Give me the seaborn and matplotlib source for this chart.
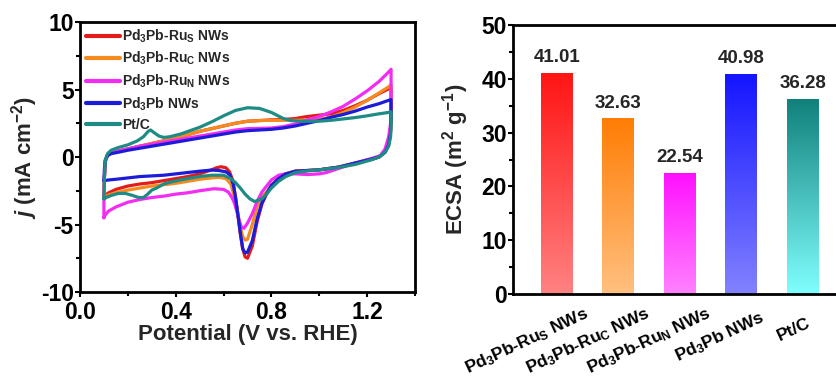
import numpy as np
import pandas as pd
import matplotlib
matplotlib.use("Agg")
import matplotlib.pyplot as plt
import matplotlib.transforms as mtransforms
from matplotlib.ticker import MultipleLocator, FormatStrFormatter
import seaborn as sns

# ---------------- data ----------------
samples = ["Pd3Pb-RuS NWs", "Pd3Pb-RuC NWs", "Pd3Pb-RuN NWs", "Pd3Pb NWs", "Pt/C"]
sample_labels = [r"Pd$_3$Pb-Ru$_{S}$ NWs", r"Pd$_3$Pb-Ru$_{C}$ NWs",
                 r"Pd$_3$Pb-Ru$_{N}$ NWs", r"Pd$_3$Pb NWs", "Pt/C"]

# CV loops: anodic sweep 0.1 -> 1.3 V, then cathodic sweep back to 0.1 V
rus_V = [0.100, 0.102, 0.106, 0.115, 0.13, 0.16, 0.20, 0.25, 0.30, 0.35, 0.40, 0.45, 0.50, 0.55,
         0.60, 0.65, 0.70, 0.75, 0.80, 0.85, 0.90, 0.95, 1.00, 1.05, 1.10, 1.15, 1.20, 1.25, 1.29, 1.30,
         1.30, 1.298, 1.29, 1.275, 1.25, 1.22, 1.15, 1.08, 1.00, 0.95, 0.90, 0.86, 0.83, 0.80, 0.78,
         0.76, 0.74, 0.72, 0.70, 0.69, 0.68, 0.67, 0.66, 0.65, 0.64, 0.625, 0.61, 0.59, 0.57, 0.55,
         0.50, 0.45, 0.40, 0.35, 0.30, 0.25, 0.20, 0.15, 0.12, 0.10]
rus_j = [-2.9, -1.5, -0.3, 0.15, 0.35, 0.45, 0.6, 0.8, 1.0, 1.2, 1.4, 1.65, 1.9, 2.1,
         2.3, 2.5, 2.65, 2.7, 2.75, 2.78, 2.85, 3.0, 3.1, 3.2, 3.45, 3.8, 4.2, 4.7, 5.05, 5.15,
         3.5, 2.0, 1.0, 0.4, 0.0, -0.15, -0.45, -0.75, -0.95, -1.0, -1.05, -1.25, -1.6, -2.1, -2.7,
         -3.5, -4.8, -6.6, -7.5, -7.4, -6.8, -5.7, -4.3, -3.0, -1.8, -1.1, -0.8, -0.72, -0.8, -0.95,
         -1.25, -1.45, -1.6, -1.75, -1.9, -2.0, -2.15, -2.4, -2.65, -2.9]

ruc_V = [0.100, 0.102, 0.106, 0.115, 0.13, 0.16, 0.20, 0.25, 0.30, 0.35, 0.40, 0.45, 0.50, 0.55,
         0.60, 0.65, 0.70, 0.75, 0.80, 0.85, 0.90, 0.95, 1.00, 1.05, 1.10, 1.15, 1.20, 1.25, 1.29, 1.30,
         1.30, 1.298, 1.29, 1.275, 1.25, 1.22, 1.15, 1.08, 1.00, 0.95, 0.90, 0.86, 0.83, 0.80, 0.78,
         0.76, 0.74, 0.72, 0.70, 0.69, 0.68, 0.67, 0.66, 0.65, 0.64, 0.63, 0.61, 0.58, 0.55,
         0.50, 0.45, 0.40, 0.35, 0.30, 0.25, 0.20, 0.15, 0.12, 0.10]
ruc_j = [-3.0, -1.5, -0.3, 0.15, 0.35, 0.45, 0.6, 0.8, 1.0, 1.2, 1.4, 1.65, 1.9, 2.1,
         2.3, 2.5, 2.65, 2.7, 2.72, 2.72, 2.72, 2.75, 2.8, 2.95, 3.3, 3.7, 4.2, 4.75, 5.2, 5.35,
         3.6, 2.0, 1.0, 0.4, 0.0, -0.15, -0.45, -0.75, -0.95, -1.0, -1.05, -1.25, -1.6, -2.1, -2.6,
         -2.95, -3.7, -5.0, -6.1, -6.15, -5.9, -5.2, -4.2, -3.3, -2.6, -2.0, -1.6, -1.5, -1.55,
         -1.65, -1.8, -1.95, -2.05, -2.15, -2.3, -2.45, -2.65, -2.8, -3.0]

run_V = [0.100, 0.100, 0.102, 0.106, 0.115, 0.13, 0.16, 0.20, 0.25, 0.30, 0.35, 0.40, 0.45, 0.50,
         0.55, 0.60, 0.65, 0.70, 0.75, 0.80, 0.85, 0.90, 0.95, 1.00, 1.05, 1.10, 1.15, 1.20, 1.25,
         1.29, 1.30,
         1.30, 1.298, 1.29, 1.275, 1.255, 1.22, 1.15, 1.08, 1.03, 1.00, 0.95, 0.90, 0.86, 0.83, 0.80,
         0.78, 0.76, 0.74, 0.72, 0.70, 0.685, 0.675, 0.665, 0.655, 0.645, 0.635, 0.62, 0.60, 0.56,
         0.50, 0.45, 0.40, 0.35, 0.30, 0.25, 0.20, 0.15, 0.12, 0.105, 0.10]
run_j = [-4.5, -3.0, -1.5, -0.3, 0.1, 0.3, 0.45, 0.6, 0.8, 0.95, 1.1, 1.25, 1.4, 1.55,
         1.7, 1.85, 2.0, 2.1, 2.12, 2.15, 2.25, 2.45, 2.75, 3.0, 3.35, 3.75, 4.3, 4.9, 5.6,
         6.3, 6.5,
         4.0, 2.5, 1.5, 0.6, 0.1, -0.1, -0.45, -0.85, -1.15, -1.25, -1.3, -1.25, -1.25, -1.35, -1.7,
         -2.15, -2.6, -3.3, -4.2, -4.9, -5.28, -5.2, -4.7, -4.0, -3.4, -3.0, -2.6, -2.4, -2.35,
         -2.5, -2.65, -2.75, -2.9, -3.0, -3.15, -3.35, -3.7, -4.0, -4.3, -4.5]

pb_V = [0.100, 0.102, 0.106, 0.115, 0.13, 0.16, 0.20, 0.25, 0.30, 0.35, 0.40, 0.45, 0.50, 0.55,
        0.60, 0.65, 0.70, 0.75, 0.80, 0.85, 0.90, 0.95, 1.00, 1.05, 1.10, 1.15, 1.20, 1.25, 1.29, 1.30,
        1.30, 1.298, 1.29, 1.275, 1.25, 1.22, 1.15, 1.08, 1.00, 0.95, 0.90, 0.86, 0.83, 0.80, 0.78,
        0.76, 0.74, 0.72, 0.70, 0.69, 0.68, 0.67, 0.66, 0.65, 0.64, 0.625, 0.61, 0.58, 0.55,
        0.50, 0.45, 0.40, 0.35, 0.30, 0.25, 0.20, 0.15, 0.12, 0.10]
pb_j = [-1.75, -0.9, -0.2, 0.1, 0.25, 0.35, 0.5, 0.65, 0.8, 0.95, 1.1, 1.25, 1.4, 1.55,
        1.7, 1.85, 1.95, 2.0, 2.05, 2.15, 2.3, 2.5, 2.7, 2.95, 3.15, 3.4, 3.7, 3.95, 4.2, 4.25,
        3.0, 1.8, 0.9, 0.35, 0.0, -0.15, -0.45, -0.75, -0.95, -1.0, -1.05, -1.25, -1.6, -2.1, -2.7,
        -3.4, -4.6, -6.2, -7.05, -7.1, -6.8, -5.6, -4.3, -3.0, -2.0, -1.3, -1.1, -1.0, -0.97,
        -1.05, -1.15, -1.25, -1.35, -1.4, -1.45, -1.55, -1.65, -1.7, -1.75]

ptc_V = [0.100, 0.102, 0.106, 0.115, 0.13, 0.16, 0.20, 0.24, 0.265, 0.285, 0.295, 0.31, 0.33, 0.35,
         0.375, 0.42, 0.46, 0.50, 0.55, 0.60, 0.65, 0.70, 0.75, 0.80, 0.85, 0.88, 0.92, 1.00, 1.05,
         1.10, 1.15, 1.20, 1.25, 1.29, 1.30,
         1.30, 1.298, 1.29, 1.275, 1.25, 1.22, 1.15, 1.08, 1.00, 0.95, 0.90, 0.86, 0.83, 0.80, 0.78,
         0.76, 0.73, 0.71, 0.69, 0.67, 0.65, 0.63, 0.60, 0.55, 0.50, 0.45, 0.42, 0.38, 0.35, 0.32,
         0.30, 0.28, 0.265, 0.245, 0.22, 0.19, 0.16, 0.13, 0.11, 0.10]
ptc_j = [-3.1, -1.5, -0.2, 0.25, 0.5, 0.7, 0.9, 1.2, 1.5, 1.9, 2.0, 1.8, 1.55, 1.45,
         1.5, 1.7, 1.95, 2.2, 2.6, 3.05, 3.45, 3.65, 3.6, 3.3, 2.85, 2.7, 2.65, 2.65, 2.72,
         2.82, 2.92, 3.05, 3.2, 3.3, 3.35,
         2.5, 1.5, 0.8, 0.35, 0.0, -0.2, -0.55, -0.78, -0.95, -1.03, -1.15, -1.45, -1.8, -2.3, -2.75,
         -3.1, -3.3, -3.1, -2.75, -2.3, -1.9, -1.6, -1.35, -1.35, -1.45, -1.6, -1.7, -1.85, -2.0, -2.3,
         -2.45, -2.8, -3.0, -3.0, -2.85, -2.7, -2.7, -2.85, -3.0, -3.1]

line_colors = ["#E41B1B", "#F58A1F", "#F22CF2", "#1C1CD8", "#1E8C84"]

# ECSA values
ecsa = [41.01, 32.63, 22.54, 40.98, 36.28]
bar_top = ["#FF1414", "#FF7D05", "#FF10FF", "#1414FF", "#10807A"]
bar_bottom = ["#FF8282", "#FFC080", "#FF82FF", "#8282FF", "#80FFFF"]

cv = pd.concat([
    pd.DataFrame({"V": v, "j": j, "sample": s})
    for s, v, j in zip(samples, [rus_V, ruc_V, run_V, pb_V, ptc_V],
                       [rus_j, ruc_j, run_j, pb_j, ptc_j])
], ignore_index=True)
bars = pd.DataFrame({"sample": samples, "ecsa": ecsa})

# ---------------- style ----------------
sns.set_theme(style="ticks")
plt.rcParams.update({
    "font.family": ["Liberation Sans", "DejaVu Sans"],
    "font.weight": "bold",
    "axes.labelweight": "bold",
    "axes.unicode_minus": False,
    "mathtext.fontset": "custom",
    "mathtext.rm": "Liberation Sans:bold",
    "mathtext.bf": "Liberation Sans:bold",
    "mathtext.sf": "Liberation Sans:bold",
    "mathtext.it": "Liberation Sans:italic:bold",
    "mathtext.default": "rm",
    "axes.linewidth": 2.0,
    "xtick.major.width": 1.5, "ytick.major.width": 1.5,
    "xtick.minor.width": 1.5, "ytick.minor.width": 1.5,
    "xtick.major.size": 3.5, "ytick.major.size": 3.5,
    "xtick.minor.size": 3.0, "ytick.minor.size": 3.0,
    "xtick.color": "black", "ytick.color": "black",
    "axes.edgecolor": "black",
})

fig = plt.figure(figsize=(8.37, 3.81), dpi=100)
W, H = 837, 381
ax1 = fig.add_axes([80 / W, 1 - 292 / H, 335 / W, 270 / H])
ax2 = fig.add_axes([513 / W, 1 - 294 / H, 330 / W, 269 / H])

# ---------------- CV curves ----------------
sns.lineplot(data=cv, x="V", y="j", hue="sample", hue_order=samples,
             palette=line_colors, sort=False, estimator=None, lw=2.3,
             legend=False, ax=ax1)
for ln in ax1.lines:
    ln.set_solid_joinstyle("round")
    ln.set_solid_capstyle("round")
ax1.set_xlim(0, 1.4)
ax1.set_ylim(-10, 10)
ax1.xaxis.set_major_locator(MultipleLocator(0.4))
ax1.xaxis.set_minor_locator(MultipleLocator(0.2))
ax1.xaxis.set_major_formatter(FormatStrFormatter("%.1f"))
ax1.yaxis.set_major_locator(MultipleLocator(5))
ax1.yaxis.set_minor_locator(MultipleLocator(2.5))
ax1.tick_params(axis="y", labelsize=16.5, pad=1)
ax1.tick_params(axis="x", labelsize=16.5, pad=2.8)
ax1.set_xlabel("Potential (V vs. RHE)", fontsize=16, fontweight="bold")
ax1.set_ylabel(r"$\mathit{j}$ (mA cm$^{-2}$)", fontsize=16, fontweight="bold")
ax1.xaxis.set_label_coords(0.5, -0.118)
ax1.yaxis.set_label_coords(-0.12, 0.5)
for lab in ax1.get_xticklabels() + ax1.get_yticklabels():
    lab.set_fontweight("bold")
leg = ax1.legend(ax1.lines, sample_labels, loc="upper left", bbox_to_anchor=(0.0, 1.0),
                 frameon=False, fontsize=10, handlelength=2.5, handletextpad=0.12,
                 labelspacing=0.37, borderaxespad=0.15, borderpad=0.25)
for t in leg.get_texts():
    t.set_fontweight("bold")
for h in leg.get_lines():
    h.set_linewidth(3.0)

# ---------------- ECSA bars ----------------
sns.barplot(data=bars, x="sample", y="ecsa", hue="sample", order=samples,
            hue_order=samples, palette=bar_top, width=0.52, legend=False,
            saturation=1, ax=ax2)
for patch, top, bot in zip(ax2.patches, bar_top, bar_bottom):
    x0, w, h = patch.get_x(), patch.get_width(), patch.get_height()
    c_top = np.array(matplotlib.colors.to_rgb(top))
    c_bot = np.array(matplotlib.colors.to_rgb(bot))
    t = np.linspace(0, 1, 256)[:, None]
    grad = (c_bot * (1 - t) + c_top * t)[:, None, :]
    im = ax2.imshow(grad, extent=[x0, x0 + w, 0, h], origin="lower",
                    aspect="auto", zorder=patch.get_zorder(), interpolation="bilinear")
    im.set_clip_path(patch)
    patch.set_facecolor("none")
    patch.set_edgecolor("none")
ax2.set_xlim(-0.715, -0.715 + 330 / 61.5)
ax2.set_ylim(0, 50)
for cont in ax2.containers:
    ax2.bar_label(cont, fmt="%.2f", padding=5, fontsize=13.5, fontweight="bold")

ax2.yaxis.set_major_locator(MultipleLocator(10))
ax2.yaxis.set_minor_locator(MultipleLocator(5))
ax2.tick_params(axis="y", labelsize=16.5, pad=1)
ax2.tick_params(axis="x", length=0, labelsize=12.5, pad=2)
ax2.set_xlabel("")
ax2.set_ylabel(r"ECSA (m$^{2}$ g$^{-1}$)", fontsize=16, fontweight="bold")
ax2.yaxis.set_label_coords(-0.128, 0.5)
ax2.set_xticks(range(len(samples)))
angle = 25
ax2.set_xticklabels(sample_labels, rotation=angle, ha="right", va="top",
                    rotation_mode="anchor", fontweight="bold")
for lab in ax2.get_yticklabels():
    lab.set_fontweight("bold")
ax2.spines["right"].set_visible(False)

# pivot each rotated category label about a point three quarters along its length
renderer = fig.canvas.get_renderer()
for lab in ax2.get_xticklabels():
    lab.set_rotation(0)
    length = lab.get_window_extent(renderer).width
    lab.set_rotation(angle)
    a = np.deg2rad(angle)
    dx = 0.25 * length * np.cos(a) - 4
    dy = 0.25 * length * np.sin(a) - 22
    lab.set_transform(lab.get_transform() + mtransforms.Affine2D().translate(dx, dy))

fig.savefig("out.png", dpi=100)
